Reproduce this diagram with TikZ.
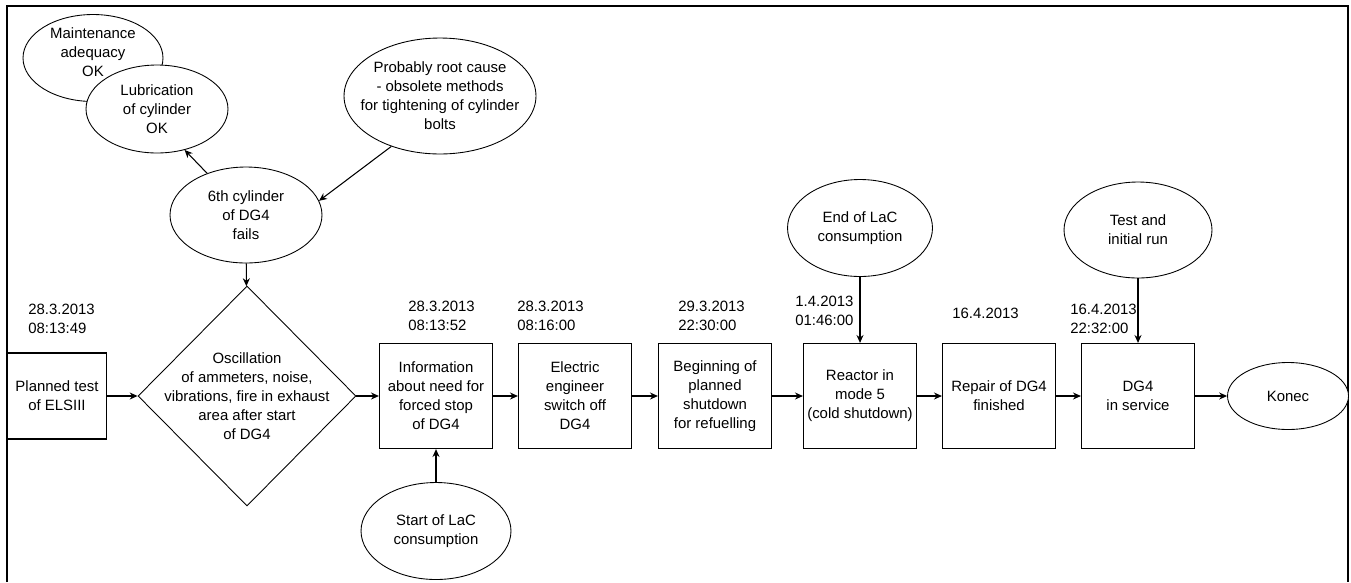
\documentclass[tikz,border=0pt]{standalone}
\usepackage{fontspec}
\setmainfont{Liberation Sans}
\usetikzlibrary{shapes.geometric,arrows.meta}

\begin{document}
\begin{tikzpicture}[x=0.02cm, y=-0.02cm,
    every node/.style={font=\fontsize{8.5}{10.8}\selectfont, align=center},
    box/.style={draw, line width=0.7pt, minimum width=2.26cm, minimum height=2.1cm, inner sep=1pt},
    oval/.style={draw, ellipse, line width=0.5pt, fill=white, inner sep=0pt},
    decision/.style={draw, diamond, line width=0.5pt, minimum width=4.36cm, minimum height=4.4cm, inner sep=0pt},
    date/.style={anchor=west, align=left, inner sep=0pt},
    arr/.style={-{Stealth[length=4.5pt,width=4pt]}, line width=0.6pt}]

    \useasboundingbox (0,0) rectangle (1351,582);
    \draw[line width=1.4pt] (7,582) -- (7,6) -- (1348,6) -- (1348,582);

    % causes above the main line
    \node[oval, text depth=7pt, minimum width=2.8cm, minimum height=1.74cm] (maint) at (93,58) {Maintenance\\adequacy\\OK};
    \node[oval, minimum width=2.84cm, minimum height=1.76cm] (lubr) at (157,109) {Lubrication\\of cylinder\\OK};
    \node[oval, inner xsep=-8pt, minimum width=3.84cm, minimum height=2.32cm] (cause) at (440,96) {Probably root cause\\- obsolete methods\\for tightening of cylinder\\bolts};
    \node[oval, minimum width=3.04cm, minimum height=1.92cm] (cyl) at (246,215) {6th cylinder\\of DG4\\fails};

    % main line
    \node[draw, line width=0.7pt, minimum width=1.98cm, minimum height=1.72cm] (plan) at (57,396) {Planned test\\of ELSIII};
    \node[decision] (osc) at (247,396) {};
    \node (osctext) at (osc) {Oscillation\\of ammeters, noise,\\vibrations, fire in exhaust\\area after start\\of DG4};
    \node[box] (info) at (436,396) {Information\\about need for\\forced stop\\of DG4};
    \node[box] (elec) at (575,396) {Electric\\engineer\\switch off\\DG4};
    \node[box] (shut) at (715,396) {Beginning of\\planned\\shutdown\\for refuelling};
    \node[box] (react) at (860,396) {Reactor in\\mode 5\\(cold shutdown)};
    \node[box] (repair) at (999,396) {Repair of DG4\\finished};
    \node[box] (serv) at (1138,396) {DG4\\in service};
    \node[oval, minimum width=2.42cm, minimum height=1.34cm] (konec) at (1288,396) {Konec};

    % side events
    \node[oval, minimum width=3cm, minimum height=1.94cm] (start) at (436,531) {Start of LaC\\consumption};
    \node[oval, minimum width=2.9cm, minimum height=1.94cm] (endlac) at (860,228) {End of LaC\\consumption};
    \node[oval, minimum width=2.96cm, minimum height=1.92cm] (test) at (1138,230) {Test and\\initial run};

    % dates
    \node[date] (d1) at (28,319) {28.3.2013\\08:13:49};
    \node[date] (d2) at (408,316) {28.3.2013\\08:13:52};
    \node[date] (d3) at (517,316) {28.3.2013\\08:16:00};
    \node[date] (d4) at (678,316) {29.3.2013\\22:30:00};
    \node[date] (d5) at (795,311) {1.4.2013\\01:46:00};
    \node[date] (d6) at (952,313) {16.4.2013};
    \node[date] (d7) at (1070,319) {16.4.2013\\22:32:00};

    % connectors
    \draw[arr] (plan) -- (osc);
    \draw[arr] (osc) -- (info);
    \foreach \a/\b in {info/elec, elec/shut, shut/react, react/repair, repair/serv, serv/konec}
        \draw[arr] (\a) -- (\b);
    \draw[arr] (cyl) -- (osc);
    \draw[arr] (cyl.133) -- (lubr.-56);
    \draw[arr] (cause.226) -- (cyl.11);
    \draw[arr] (start) -- (info);
    \draw[arr] (endlac) -- (react);
    \draw[arr] (test) -- (serv);

\end{tikzpicture}
\end{document}
